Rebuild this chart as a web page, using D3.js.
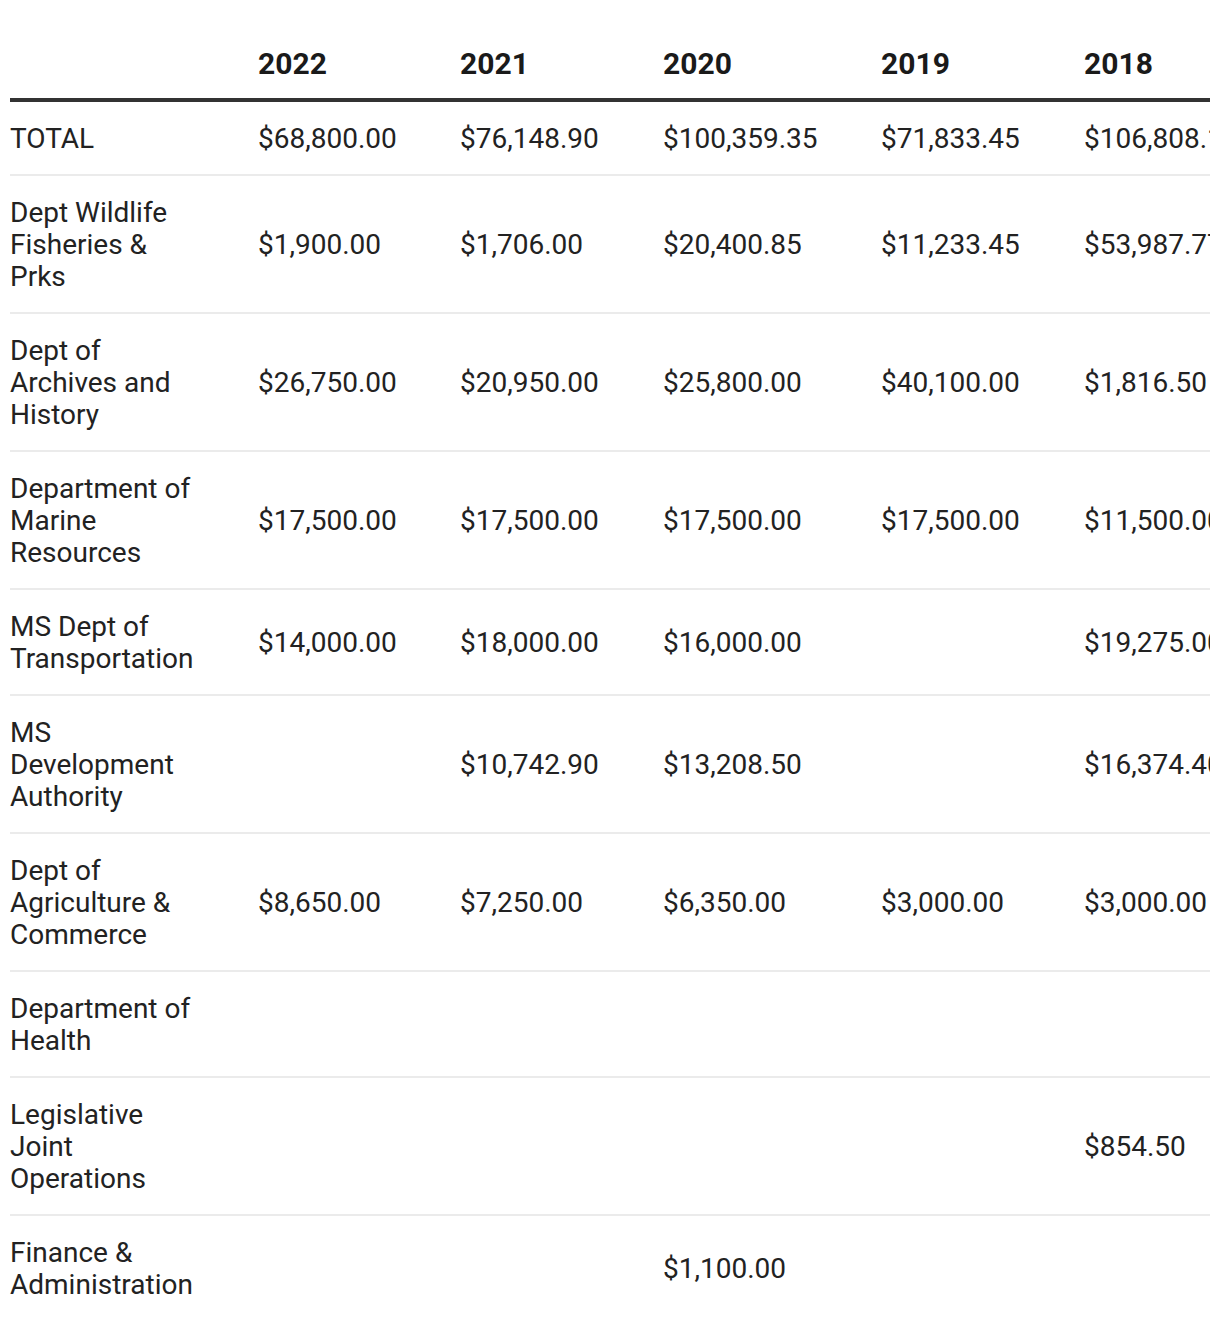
<!DOCTYPE html>
<html>
<head>
<meta charset="utf-8">
<script src="https://cdn.jsdelivr.net/npm/d3@7"></script>
<style>
  body { margin: 0; background: #fff; }
  svg text { font-family: Roboto, "Noto Sans", sans-serif; fill: #222; }
</style>
</head>
<body>
<div id="table"></div>
<script>
// table data
var years = ["2022", "2021", "2020", "2019", "2018"];

var agencies = [
    ["TOTAL"],
    ["Dept Wildlife", "Fisheries &", "Prks"],
    ["Dept of", "Archives and", "History"],
    ["Department of", "Marine", "Resources"],
    ["MS Dept of", "Transportation"],
    ["MS", "Development", "Authority"],
    ["Dept of", "Agriculture &", "Commerce"],
    ["Department of", "Health"],
    ["Legislative", "Joint", "Operations"],
    ["Finance &", "Administration"]
];

var values2022 = [68800.00, 1900.00, 26750.00, 17500.00, 14000.00, null, 8650.00, null, null, null];
var values2021 = [76148.90, 1706.00, 20950.00, 17500.00, 18000.00, 10742.90, 7250.00, null, null, null];
var values2020 = [100359.35, 20400.85, 25800.00, 17500.00, 16000.00, 13208.50, 6350.00, null, null, 1100.00];
var values2019 = [71833.45, 11233.45, 40100.00, 17500.00, null, null, 3000.00, null, null, null];
var values2018 = [106808.17, 53987.77, 1816.50, 11500.00, 19275.00, 16374.40, 3000.00, null, 854.50, null];

var valuesByYear = [values2022, values2021, values2020, values2019, values2018];

// layout
var svgWidth = 1220;
var svgHeight = 1330;
var tableLeft = 10;
var tableRight = 1210;
var colWidths = [248, 202, 203, 218, 203];
var lineHeight = 32;
var cellPad = 20;
var borderW = 2;
var headerLine = 100;
var fontSize = 28;
var headFontSize = 30;

var fmt = d3.format("$,.2f");

var svg = d3.select("#table")
    .append("svg")
    .attr("width", svgWidth)
    .attr("height", svgHeight);

svg.append("clipPath")
    .attr("id", "clip")
    .append("rect")
    .attr("x", 0)
    .attr("y", 0)
    .attr("width", tableRight)
    .attr("height", svgHeight);

var table = svg.append("g").attr("clip-path", "url(#clip)");

// column scale: key -> left edge of column
var colKeys = ["label"].concat(years);
var colStarts = d3.cumsum([tableLeft].concat(colWidths));
var xScale = d3.scaleOrdinal()
    .domain(colKeys)
    .range(Array.from(colStarts));

// row tops from the number of label lines
var rowHeights = agencies.map(d => cellPad * 2 + d.length * lineHeight + borderW);
var rowTops = d3.cumsum([headerLine + borderW].concat(rowHeights.slice(0, -1)));
var yScale = d3.scaleOrdinal()
    .domain(d3.range(agencies.length))
    .range(Array.from(rowTops));

var rows = agencies.map((lines, i) => ({
    index: i,
    lines: lines,
    top: yScale(i),
    height: rowHeights[i],
    center: yScale(i) + (rowHeights[i] - borderW) / 2
}));

// header
table.selectAll(".head")
    .data(years)
    .enter()
    .append("text")
    .attr("class", "head")
    .attr("x", d => xScale(d))
    .attr("y", 74)
    .attr("font-size", headFontSize)
    .attr("font-weight", "bold")
    .style("fill", "#1a1a1a")
    .text(d => d);

table.append("line")
    .attr("x1", tableLeft)
    .attr("x2", tableRight)
    .attr("y1", headerLine)
    .attr("y2", headerLine)
    .attr("stroke", "#333")
    .attr("stroke-width", 4);

// row separators (none after last row)
table.selectAll(".sep")
    .data(rows.slice(0, -1))
    .enter()
    .append("line")
    .attr("class", "sep")
    .attr("x1", tableLeft)
    .attr("x2", tableRight)
    .attr("y1", d => d.top + d.height - borderW / 2)
    .attr("y2", d => d.top + d.height - borderW / 2)
    .attr("stroke", "#ebebeb")
    .attr("stroke-width", borderW);

// row labels
var labels = table.selectAll(".label")
    .data(rows)
    .enter()
    .append("text")
    .attr("class", "label")
    .attr("font-size", fontSize);

labels.selectAll("tspan")
    .data(d => d.lines.map((t, j) => ({ t: t, y: d.top + cellPad + lineHeight * j + lineHeight / 2 })))
    .enter()
    .append("tspan")
    .attr("x", xScale("label"))
    .attr("y", d => d.y + fontSize * 0.355)
    .text(d => d.t);

// value cells
var cells = [];
years.forEach(function(yr, k) {
    valuesByYear[k].forEach(function(v, i) {
        if (v !== null) cells.push({ year: yr, row: rows[i], value: v });
    });
});

table.selectAll(".val")
    .data(cells)
    .enter()
    .append("text")
    .attr("class", "val")
    .attr("font-size", fontSize)
    .attr("x", d => xScale(d.year))
    .attr("y", d => d.row.center + fontSize * 0.355)
    .text(d => fmt(d.value));
</script>
</body>
</html>
